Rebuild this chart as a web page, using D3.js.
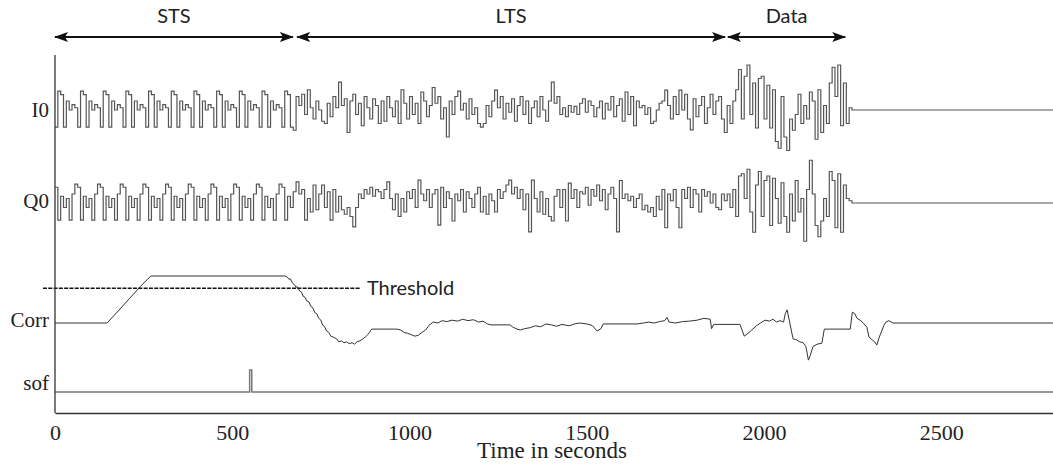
<!DOCTYPE html>
<html>
<head>
<meta charset="utf-8">
<script src="https://cdn.jsdelivr.net/npm/d3@7"></script>
<style>
  body { margin: 0; background: #fff; }
  svg { display: block; }
</style>
</head>
<body>
<div id="chart"></div>
<script>
// Values (time in samples, signal amplitude -1..1)
const stepLen = 8;
const segmentStarts = [0, 672, 1896, 2248];   // STS, LTS, Data, idle
const tEnd = 2815;

// one period of the short training symbol, repeated through the STS
const stsI = [-0.38, 0.42, 0.34, -0.38, 0.2, 0.0, 0.12, 0.05];
const stsQ = [0.35, -0.38, 0.15, -0.1, 0.1, -0.38, 0.2, 0.42];

const ltsI = [
  -0.45, 0.3, 0.1, 0.35, -0.1, 0.45, 0.05, -0.2, 0.2, 0.0, -0.25, -0.3, 0.15, -0.15, 0.3, 0.05,
  0.62, 0.1, 0.25, -0.5, 0.2, 0.35, -0.1, 0.15, -0.35, 0.3, 0.05, -0.2, 0.25, 0.1, -0.3, 0.2,
  -0.25, 0.3, 0.05, -0.15, 0.2, -0.3, 0.45, 0.15, -0.2, 0.3, -0.1, 0.15, -0.3, 0.4, 0.2, -0.15,
  0.1, 0.5, 0.15, 0.3, -0.2, 0.05, -0.6, 0.2, -0.1, 0.3, 0.42, 0.0, 0.15, -0.2, 0.25, -0.1,
  0.05, -0.3, -0.38, -0.3, 0.1, -0.15, 0.2, 0.44, 0.05, 0.3, -0.2, 0.15, -0.05, 0.25, -0.25, 0.1,
  0.3, -0.1, 0.2, -0.3, 0.05, 0.2, -0.15, 0.3, 0.0, -0.25, 0.2, 0.62, 0.15, 0.3, -0.1, 0.05,
  -0.15, 0.1, -0.05, 0.08, -0.1, 0.15, 0.25, -0.05, 0.2, 0.1, -0.15, 0.05, 0.2, -0.2, 0.15, 0.0,
  0.3, -0.15, 0.1, 0.25, -0.25, 0.4, -0.1, 0.3, -0.35, 0.2, 0.05, 0.1, -0.1, 0.05, -0.3, -0.25,
  0.0, 0.15, 0.2, 0.44, 0.1, -0.2, 0.3, -0.1, 0.44, 0.0, 0.35, -0.2, -0.44, 0.25, -0.15, 0.1,
  0.3, -0.3, 0.05, 0.35, -0.1, 0.2, 0.3, -0.2, -0.5
];
const ltsQ = [
  0.25, 0.47, 0.2, 0.3, -0.38, 0.1, -0.2, 0.4, -0.15, 0.2, 0.4, -0.1, 0.25, -0.38, 0.3, -0.2,
  0.15, -0.15, -0.25, -0.1, -0.3, -0.53, -0.1, 0.2, 0.1, 0.3, 0.2, 0.35, 0.15, 0.3, 0.25, 0.1,
  0.3, 0.47, 0.1, -0.15, 0.2, -0.3, 0.1, -0.2, 0.25, 0.1, 0.3, -0.1, 0.51, 0.2, 0.05, 0.3,
  -0.1, 0.2, 0.3, -0.49, 0.35, -0.1, 0.25, 0.1, -0.4, 0.2, 0.05, 0.3, -0.2, 0.25, 0.1, -0.1,
  0.2, 0.35, -0.2, 0.15, -0.25, 0.2, 0.05, -0.2, 0.3, 0.1, 0.25, 0.4, 0.51, 0.2, 0.35, 0.1,
  0.3, -0.15, 0.2, -0.64, 0.51, 0.1, -0.2, 0.25, -0.25, 0.1, -0.3, -0.4, 0.15, 0.3, -0.1, 0.3,
  -0.4, 0.44, 0.1, 0.3, -0.1, 0.25, 0.2, 0.35, -0.05, 0.3, 0.15, 0.4, 0.05, 0.3, -0.15, 0.2,
  0.35, 0.1, -0.64, 0.5, 0.1, 0.2, 0.05, 0.15, -0.1, 0.1, 0.2, -0.15, -0.05, -0.2, -0.1, -0.3,
  0.15, -0.15, 0.3, -0.55, 0.2, 0.05, 0.3, -0.1, -0.55, 0.3, 0.1, 0.35, -0.1, 0.3, 0.2, -0.2,
  0.3, 0.15, 0.25, 0.0, 0.2, -0.1, -0.15, 0.2, 0.05
];

const dataI = [
  0.1, -0.3, 0.2, 0.45, 0.9, -0.2, 0.75, 1.0, -0.1, 0.6, -0.4, 0.7, 0.75, -0.2, 0.55, -0.4,
  0.45, -0.7, -0.85, 0.3, -0.6, -0.9, -0.2, -0.45, -0.1, 0.35, -0.3, 0.1, -0.2, 0.4, 0.2, -0.65,
  0.45, -0.5, 0.1, -0.3, 0.6, 0.95, 0.3, 1.0, -0.35, 0.6, -0.3, 0.05
];
const dataQ = [
  0.2, -0.1, 0.3, -0.3, 0.6, 0.65, 0.1, 0.75, -0.2, -0.65, 0.4, 0.7, -0.3, 0.5, 0.6, -0.5,
  0.55, 0.1, -0.45, 0.45, -0.3, -0.65, 0.2, -0.4, 0.5, -0.2, 0.1, -0.85, 0.3, 0.95, 0.2, -0.5,
  -0.75, -0.4, 0.1, -0.3, 0.7, 0.5, -0.55, 0.65, -0.65, 0.4, 0.1, 0.05
];

// correlator output (1 = plateau)
const corrT = [
  0, 147, 180, 210, 240, 270, 649, 655, 660, 664, 670, 675, 680, 684, 690, 695, 700, 705, 710, 716,
  722, 727, 733, 738, 744, 750, 755, 760, 766, 772, 778, 785, 795, 800, 808, 815, 822, 830, 838, 845,
  852, 860, 868, 875, 882, 887, 893, 964, 975, 985, 995, 1005, 1015, 1025, 1035, 1045, 1055, 1067,
  1080, 1092, 1105, 1120, 1135, 1150, 1165, 1180, 1195, 1207, 1220, 1230, 1283, 1290, 1300, 1312,
  1325, 1340, 1355, 1370, 1385, 1400, 1415, 1430, 1450, 1465, 1480, 1500, 1515, 1529, 1540, 1546,
  1642, 1660, 1675, 1690, 1705, 1720, 1726, 1732, 1750, 1770, 1790, 1811, 1830, 1848, 1852, 1858,
  1932, 1938, 1944, 1955, 1965, 1980, 1990, 2003, 2015, 2025, 2035, 2045, 2055, 2060, 2065, 2070,
  2078, 2082, 2092, 2100, 2110, 2118, 2121, 2125, 2130, 2138, 2150, 2163, 2170, 2243, 2249, 2256,
  2262, 2271, 2280, 2290, 2296, 2305, 2312, 2318, 2325, 2333, 2338, 2344, 2352, 2364, 2815
];
const corrV = [
  0, 0, 0.27, 0.52, 0.77, 1.0, 1.0, 0.98, 0.93, 0.94, 0.85, 0.82, 0.76, 0.77, 0.68, 0.66, 0.57, 0.55, 0.47, 0.45,
  0.35, 0.33, 0.22, 0.2, 0.1, 0.06, -0.05, -0.07, -0.17, -0.2, -0.28, -0.3, -0.34, -0.4, -0.38, -0.42, -0.4, -0.44, -0.42, -0.45,
  -0.4, -0.38, -0.34, -0.3, -0.25, -0.2, -0.13, -0.13, -0.15, -0.2, -0.22, -0.25, -0.28, -0.26, -0.2, -0.15, -0.05, 0.02,
  0.0, 0.05, 0.03, 0.06, 0.04, 0.08, 0.05, 0.07, 0.02, 0.04, -0.02, -0.04, -0.04, -0.08, -0.12, -0.15,
  -0.12, -0.1, -0.06, -0.08, -0.02, -0.04, -0.07, -0.03, -0.06, -0.02, 0.0, -0.02, -0.05, -0.17, -0.12, -0.02,
  -0.02, 0.0, 0.02, 0.0, 0.03, 0.05, 0.12, 0.02, 0.0, 0.03, 0.04, 0.06, 0.1, 0.08, -0.12, -0.03,
  -0.03, -0.15, -0.28, -0.22, -0.15, -0.05, 0.0, 0.06, 0.04, 0.08, 0.02, 0.05, 0.02, 0.2, 0.28, 0.1,
  -0.2, -0.34, -0.36, -0.4, -0.42, -0.5, -0.62, -0.79, -0.7, -0.5, -0.45, -0.43, -0.13, -0.13, 0.23, 0.2,
  0.1, 0.06, 0.0, -0.09, -0.3, -0.36, -0.4, -0.47, -0.3, -0.15, -0.05, 0.02, 0.05, 0.0, 0.0
];
const threshold = 0.74;
const thresholdSpan = [-34, 860];

const sofPulse = [549, 555];

const sections = ["STS", "LTS", "Data"];
const sectionStart = [0, 683, 1898];
const sectionEnd = [671, 1890, 2229];

const xTicks = [0, 500, 1000, 1500, 2000, 2500];
const trackLabels = ["I0", "Q0", "Corr", "sof"];

// Layout
const width = 1053, height = 472;
const left = 55, axisY = 413, topY = 55;
const serif = "'Liberation Serif', 'Times New Roman', serif";
const sans = "Lato, 'Noto Sans', sans-serif";

const svg = d3.select("#chart").append("svg")
  .attr("width", width)
  .attr("height", height);

const x = d3.scaleLinear().domain([0, tEnd]).range([left, width]);

const yI = d3.scaleLinear().domain([-1, 1]).range([155, 65]);
const yQ = d3.scaleLinear().domain([-1, 1]).range([248, 158]);
const yC = d3.scaleLinear().domain([-1, 1]).range([370, 276]);
const yS = d3.scaleLinear().domain([0, 1]).range([392, 370]);

// step series: STS period repeated, then LTS, data, then idle at zero
function buildSteps(sts, lts, dat) {
  const pts = [];
  const nSts = (segmentStarts[1] - segmentStarts[0]) / stepLen;
  for (let i = 0; i < nSts; i++) pts.push([segmentStarts[0] + i * stepLen, sts[i % sts.length]]);
  lts.forEach((v, i) => pts.push([segmentStarts[1] + i * stepLen, v]));
  dat.forEach((v, i) => pts.push([segmentStarts[2] + i * stepLen, v]));
  pts.push([segmentStarts[3], 0], [tEnd, 0]);
  return pts;
}

const stepLine = yScale => d3.line()
  .x(d => x(d[0]))
  .y(d => yScale(d[1]))
  .curve(d3.curveStepAfter);

svg.append("path")
  .attr("d", stepLine(yI)(buildSteps(stsI, ltsI, dataI)))
  .attr("fill", "none")
  .attr("stroke", "#555")
  .attr("stroke-width", 1.2);

svg.append("path")
  .attr("d", stepLine(yQ)(buildSteps(stsQ, ltsQ, dataQ)))
  .attr("fill", "none")
  .attr("stroke", "#555")
  .attr("stroke-width", 1.2);

// Corr
const corrLine = d3.line()
  .x(d => x(d[0]))
  .y(d => yC(d[1]));

svg.append("path")
  .attr("d", corrLine(corrT.map((t, i) => [t, corrV[i]])))
  .attr("fill", "none")
  .attr("stroke", "#333")
  .attr("stroke-width", 1);

// threshold
svg.append("line")
  .attr("x1", x(thresholdSpan[0]))
  .attr("x2", x(thresholdSpan[1]))
  .attr("y1", yC(threshold))
  .attr("y2", yC(threshold))
  .attr("stroke", "#111")
  .attr("stroke-width", 1.5)
  .attr("stroke-dasharray", "4,1.3");

svg.append("text")
  .attr("x", x(thresholdSpan[1]) + 7)
  .attr("y", yC(threshold) + 7)
  .text("Threshold")
  .style("font-family", sans)
  .style("font-size", "20px")
  .style("fill", "#222");

// sof
const sofPts = [[0, 0], [sofPulse[0], 0], [sofPulse[0], 1], [sofPulse[1], 1], [sofPulse[1], 0], [tEnd, 0]];
svg.append("path")
  .attr("d", stepLine(yS)(sofPts))
  .attr("fill", "none")
  .attr("stroke", "#777")
  .attr("stroke-width", 1.5);

// frame
svg.append("line")
  .attr("x1", left).attr("x2", left)
  .attr("y1", topY).attr("y2", axisY)
  .attr("stroke", "#333")
  .attr("stroke-width", 1.3);

const xAxis = d3.axisBottom(x)
  .tickValues(xTicks)
  .tickFormat(d3.format("d"))
  .tickSize(0)
  .tickSizeOuter(0)
  .tickPadding(11);

const gx = svg.append("g")
  .attr("transform", `translate(0,${axisY})`)
  .call(xAxis);
gx.select(".domain").attr("stroke", "#333").attr("stroke-width", 1.3);
gx.selectAll("text")
  .style("font-family", serif)
  .style("font-size", "22px")
  .style("fill", "#222");

svg.append("text")
  .attr("x", 552)
  .attr("y", 458)
  .attr("text-anchor", "middle")
  .text("Time in seconds")
  .style("font-family", serif)
  .style("font-size", "23px")
  .style("fill", "#222");

// track labels
const labelY = [117, 208, 327, 390];
svg.selectAll(".track-label")
  .data(trackLabels)
  .enter()
  .append("text")
  .attr("class", "track-label")
  .attr("x", 49)
  .attr("y", (d, i) => labelY[i])
  .attr("text-anchor", "end")
  .text(d => d)
  .style("font-family", serif)
  .style("font-size", "21px")
  .style("fill", "#222");

// section arrows
const defs = svg.append("defs");
defs.append("marker")
  .attr("id", "head")
  .attr("markerUnits", "userSpaceOnUse")
  .attr("viewBox", "0 0 14 10")
  .attr("markerWidth", 14)
  .attr("markerHeight", 10)
  .attr("refX", 13)
  .attr("refY", 5)
  .attr("orient", "auto-start-reverse")
  .append("path")
  .attr("d", "M0,0 L14,5 L0,10 L3,5 Z")
  .attr("fill", "#111");

const arrows = svg.selectAll(".section")
  .data(sections)
  .enter()
  .append("g")
  .attr("class", "section");

arrows.append("line")
  .attr("x1", (d, i) => x(sectionStart[i]))
  .attr("x2", (d, i) => x(sectionEnd[i]))
  .attr("y1", 37)
  .attr("y2", 37)
  .attr("stroke", "#111")
  .attr("stroke-width", 2)
  .attr("marker-start", "url(#head)")
  .attr("marker-end", "url(#head)");

arrows.append("text")
  .attr("x", (d, i) => (x(sectionStart[i]) + x(sectionEnd[i])) / 2)
  .attr("y", 23)
  .attr("text-anchor", "middle")
  .text(d => d)
  .style("font-family", sans)
  .style("font-size", "20px")
  .style("fill", "#222");
</script>
</body>
</html>
